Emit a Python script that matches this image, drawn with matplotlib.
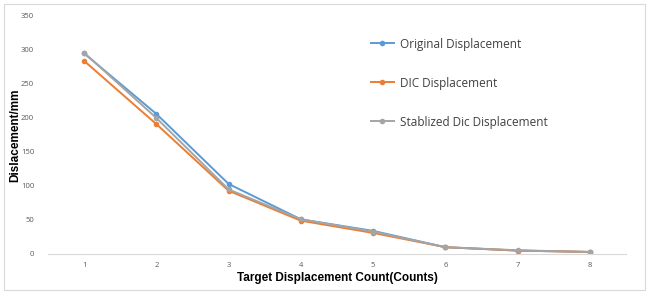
import matplotlib.pyplot as plt
from matplotlib.patches import Rectangle

# data
counts = [1, 2, 3, 4, 5, 6, 7, 8]
original = [295, 206, 103, 51, 34, 10, 5, 3]
dic = [284, 191, 93, 49, 31, 10, 5, 3]
stablized = [296, 200, 95, 51, 33, 10, 5.5, 3]

fig = plt.figure(figsize=(6.49, 2.94), dpi=100)
ax = fig.add_axes([48 / 649, 1 - 254 / 294, 578 / 649, 238 / 294])

ax.plot(counts, original, '-o', color='#5B9BD5', lw=1.4, ms=3, label='Original Displacement')
ax.plot(counts, dic, '-o', color='#ED7D31', lw=1.4, ms=3, label='DIC Displacement')
ax.plot(counts, stablized, '-o', color='#A5A5A5', lw=1.4, ms=3, label='Stablized Dic Displacement')

ax.set_xlim(0.5, 8.5)
ax.set_ylim(0, 350)
ax.set_yticks(range(0, 351, 50))
ax.set_xticks(counts)

for side in ['top', 'right', 'left']:
    ax.spines[side].set_visible(False)
ax.spines['bottom'].set_color('#D9D9D9')
ax.tick_params(length=0, labelsize=5.5, labelcolor='#595959')
ax.tick_params(axis='x', pad=6)
ax.tick_params(axis='y', pad=10)
for lab in ax.get_xticklabels() + ax.get_yticklabels():
    lab.set_family('Open Sans')

fig.text(337 / 649, 1 - 278 / 294, 'Target Displacement Count(Counts)', fontsize=8.5,
         fontweight='bold', family='Liberation Sans', ha='center', va='center')
fig.text(15 / 649, 1 - 135 / 294, 'Dislacement/mm', fontsize=8.5, fontweight='bold',
         family='Liberation Sans', rotation=90, ha='center', va='center')

leg = ax.legend(loc='upper left', bbox_to_anchor=(360 / 649, 1 - 27 / 294),
                bbox_transform=fig.transFigure, frameon=False,
                prop={'family': 'Open Sans', 'size': 8.5}, labelspacing=2.2,
                handlelength=2.0, handletextpad=0.5)
for t in leg.get_texts():
    t.set_color('#404040')

fig.add_artist(Rectangle((4 / 649, 4 / 294), 641 / 649, 286 / 294, transform=fig.transFigure,
                         fill=False, edgecolor='#D9D9D9', lw=0.8))

fig.savefig('out.png', dpi=100)
